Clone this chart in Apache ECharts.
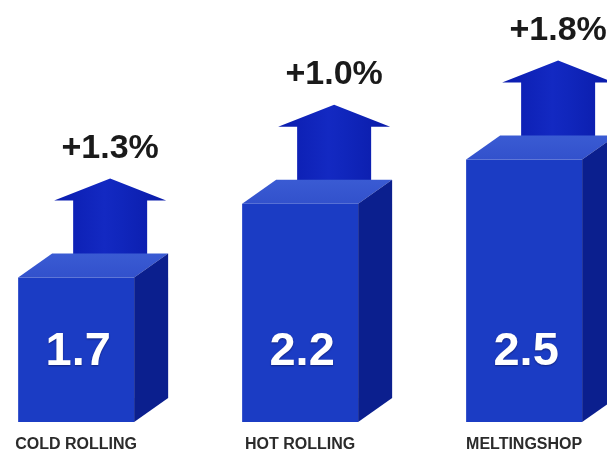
<!DOCTYPE html>
<html>
<head>
<meta charset="utf-8">
<script src="https://cdn.jsdelivr.net/npm/echarts@6/dist/echarts.min.js"></script>
<style>
  html, body { margin: 0; padding: 0; background: #ffffff; }
  #chart { width: 607px; height: 454px; }
</style>
</head>
<body>
<div id="chart"></div>
<script>
// Specific energy figures per production area, with year-on-year increase
const categories = ['COLD ROLLING', 'HOT ROLLING', 'MELTINGSHOP'];
const values = [1.7, 2.2, 2.5];
const growth = ['+1.3%', '+1.0%', '+1.8%'];

// Axis ranges: x runs over category index, y is the value scale
const X_MIN = -0.34;
const X_MAX = 2.37;
const Y_MIN = 0.72;
const Y_MAX = 3.42;

// Block shape (pixels)
const FRONT_W = 116;
const DEPTH_X = 34;
const DEPTH_Y = -24;

// Arrow shape (pixels)
const SHAFT_HALF = 37;
const SHAFT_H = 55;
const WING_HALF = 56;
const ARROW_H = 77;

const FONT = '"Liberation Sans", Arial, sans-serif';

function renderBlock(params, api) {
  const idx = params.dataIndex;
  const i = api.value(0);
  const v = api.value(1);
  const base = api.coord([i, Y_MIN]);
  const top = api.coord([i, v]);
  const cx = top[0];
  const x0 = cx - FRONT_W / 2;
  const x1 = cx + FRONT_W / 2;
  const yt = top[1];
  const yb = base[1];

  // arrow stands on the back edge of the top face
  const ax = cx + DEPTH_X;
  const ay = yt + DEPTH_Y + 2;
  const arrow = {
    type: 'polygon',
    shape: {
      points: [
        [ax - SHAFT_HALF, ay],
        [ax - SHAFT_HALF, ay - SHAFT_H],
        [ax - WING_HALF, ay - SHAFT_H],
        [ax, ay - ARROW_H],
        [ax + WING_HALF, ay - SHAFT_H],
        [ax + SHAFT_HALF, ay - SHAFT_H],
        [ax + SHAFT_HALF, ay]
      ]
    },
    style: {
      fill: {
        type: 'linear', x: 0, y: 0, x2: 1, y2: 0,
        colorStops: [
          { offset: 0, color: '#0a1cae' },
          { offset: 0.45, color: '#1329c2' },
          { offset: 0.6, color: '#1026bc' },
          { offset: 1, color: '#0a1ba8' }
        ]
      }
    }
  };

  const front = {
    type: 'polygon',
    shape: { points: [[x0, yt], [x1, yt], [x1, yb], [x0, yb]] },
    style: { fill: '#1b3cc4' }
  };
  const topFace = {
    type: 'polygon',
    shape: { points: [[x0, yt], [x1, yt], [x1 + DEPTH_X, yt + DEPTH_Y], [x0 + DEPTH_X, yt + DEPTH_Y]] },
    style: {
      fill: {
        type: 'linear', x: 0, y: 1, x2: 0, y2: 0,
        colorStops: [
          { offset: 0, color: '#3251cc' },
          { offset: 1, color: '#3a5bd3' }
        ]
      }
    }
  };
  const side = {
    type: 'polygon',
    shape: { points: [[x1, yt], [x1 + DEPTH_X, yt + DEPTH_Y], [x1 + DEPTH_X, yb + DEPTH_Y], [x1, yb]] },
    style: { fill: '#0b1f8e' }
  };

  const valueText = {
    type: 'text',
    style: {
      text: String(values[idx]),
      x: cx + 2,
      y: yb - 70,
      fill: '#ffffff',
      fontSize: 47,
      fontWeight: 'bold',
      fontFamily: FONT,
      align: 'center',
      verticalAlign: 'middle',
      textShadowColor: 'rgba(0,0,40,0.45)',
      textShadowBlur: 2,
      textShadowOffsetY: 1
    }
  };
  const growthText = {
    type: 'text',
    style: {
      text: growth[idx],
      x: ax,
      y: ay - ARROW_H - 30,
      fill: '#1a1a1a',
      fontSize: 34,
      fontWeight: 'bold',
      fontFamily: FONT,
      align: 'center',
      verticalAlign: 'middle'
    }
  };
  const caption = {
    type: 'text',
    style: {
      text: categories[idx],
      x: cx,
      y: yb + 23,
      fill: '#2b2b2b',
      fontSize: 16,
      fontWeight: 'bold',
      fontFamily: FONT,
      align: 'center',
      verticalAlign: 'middle'
    }
  };

  return {
    type: 'group',
    children: [arrow, front, topFace, side, valueText, growthText, caption]
  };
}

const chart = echarts.init(document.getElementById('chart'), null, { renderer: 'canvas' });

chart.setOption({
  animation: false,
  backgroundColor: '#ffffff',
  grid: { left: 0, right: 0, top: 24, bottom: 32 },
  xAxis: {
    type: 'value',
    min: X_MIN,
    max: X_MAX,
    show: false,
    splitLine: { show: false }
  },
  yAxis: {
    type: 'value',
    min: Y_MIN,
    max: Y_MAX,
    show: false,
    splitLine: { show: false }
  },
  series: [{
    type: 'custom',
    renderItem: renderBlock,
    data: values.map(function (v, i) { return [i, v]; }),
    clip: false
  }]
});
</script>
</body>
</html>
